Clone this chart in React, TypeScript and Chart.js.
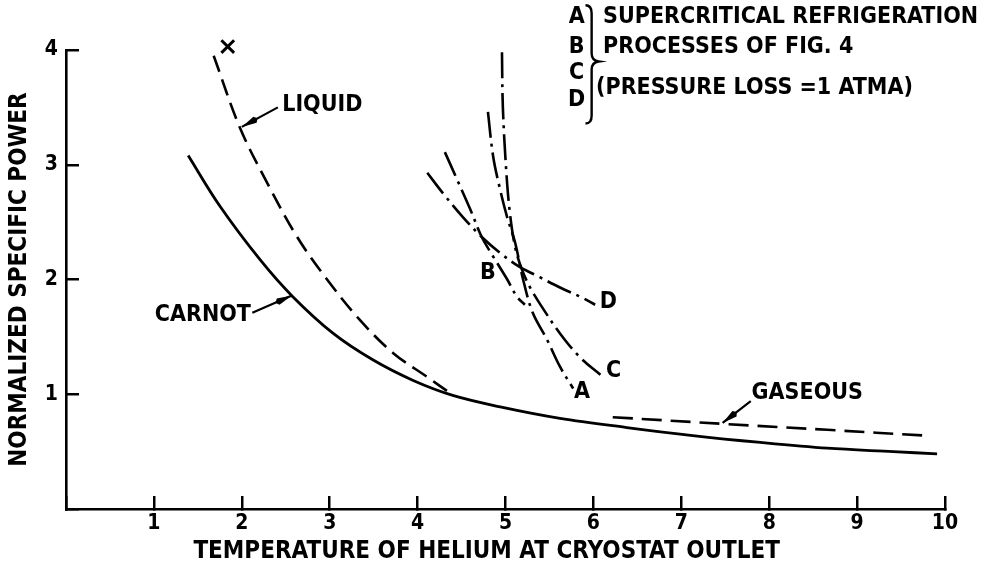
import React, { useEffect, useRef } from 'react';
import { Chart, registerables } from 'chart.js';

Chart.register(...registerables);

const FONT = '"DejaVu Sans Condensed", "DejaVu Sans", sans-serif';

// ---- axes ----
const xTickValues = [0, 1, 2, 3, 4, 5, 6, 7, 8, 9, 10];
const xTickLabels = ['', '1', '2', '3', '4', '5', '6', '7', '8', '9', '10'];
const yTickValues = [0, 1, 2, 3, 4];
const yTickLabels = ['', '1', '2', '3', '4'];
const xTitle = 'TEMPERATURE OF HELIUM AT CRYOSTAT OUTLET';
const yTitle = 'NORMALIZED SPECIFIC POWER';

// ---- series ----
const carnotT = [1.39, 1.75, 2.21, 2.58, 3.04, 3.49, 3.95, 4.40, 4.94, 5.62, 6.38, 7.13, 7.90, 8.66, 9.41, 9.91];
const carnotP = [3.08, 2.64, 2.17, 1.85, 1.53, 1.30, 1.12, 0.99, 0.89, 0.79, 0.71, 0.64, 0.58, 0.53, 0.50, 0.48];

const liquidT = [1.68, 1.98, 2.29, 2.63, 2.97, 3.34, 3.72, 4.11, 4.37];
const liquidP = [3.95, 3.32, 2.84, 2.37, 2.00, 1.65, 1.36, 1.15, 1.01];

const gaseousT = [6.22, 7.52, 8.66, 9.77];
const gaseousP = [0.80, 0.74, 0.69, 0.64];

const procAT = [4.80, 4.86, 4.94, 5.02, 5.11, 5.20, 5.31, 5.47, 5.62, 5.77];
const procAP = [3.46, 3.07, 2.78, 2.54, 2.32, 2.00, 1.71, 1.48, 1.24, 1.05];

const procBT = [4.31, 4.45, 4.60, 4.73, 4.86, 5.02, 5.13, 5.22];
const procBP = [3.11, 2.87, 2.61, 2.37, 2.20, 2.00, 1.85, 1.78];

const procCT = [4.96, 4.97, 5.01, 5.05, 5.11, 5.19, 5.28, 5.39, 5.62, 5.85, 6.08];
const procCP = [3.98, 3.50, 2.93, 2.58, 2.28, 2.08, 1.93, 1.79, 1.53, 1.32, 1.17];

const procDT = [4.11, 4.29, 4.52, 4.73, 4.94, 5.16, 5.39, 5.62, 5.85, 6.02];
const procDP = [2.93, 2.75, 2.54, 2.37, 2.23, 2.11, 2.02, 1.93, 1.85, 1.78];

const liquidEndT = [1.84];
const liquidEndP = [4.03];

// ---- annotations (in data coordinates) ----
const curveLabels = [
  { text: 'LIQUID', x: 2.46, y: 3.52, align: 'left' },
  { text: 'CARNOT', x: 1.01, y: 1.69, align: 'left' },
  { text: 'GASEOUS', x: 7.80, y: 1.01, align: 'left' },
  { text: 'A', x: 5.87, y: 1.02, align: 'center' },
  { text: 'B', x: 4.80, y: 2.06, align: 'center' },
  { text: 'C', x: 6.23, y: 1.20, align: 'center' },
  { text: 'D', x: 6.17, y: 1.80, align: 'center' },
];
const arrows = [
  { x1: 2.41, y1: 3.50, x2: 2.00, y2: 3.33 },
  { x1: 2.12, y1: 1.71, x2: 2.57, y2: 1.86 },
  { x1: 7.79, y1: 0.94, x2: 7.47, y2: 0.75 },
];
const keyLetters = ['A', 'B', 'C', 'D'];
const keyLetterY = [4.29, 4.03, 3.80, 3.56];
const keyLetterX = 5.81;
const keyLines = [
  { text: 'SUPERCRITICAL REFRIGERATION', x: 6.11, y: 4.29 },
  { text: 'PROCESSES OF FIG. 4', x: 6.11, y: 4.03 },
  { text: '(PRESSURE LOSS =1 ATMA)', x: 6.03, y: 3.67 },
];
const brace = { x: 5.98, tipX: 6.06, hookX: 5.91, top: 4.39, mid: 3.90, bottom: 3.36 };

const pts = (xs: number[], ys: number[]) => xs.map((x, i) => ({ x, y: ys[i] }));

const annotatePlugin = {
  id: 'annotate',
  afterDatasetsDraw(chart: any) {
    const ctx = chart.ctx as CanvasRenderingContext2D;
    const sx = chart.scales.x;
    const sy = chart.scales.y;
    const X = (v: number) => sx.getPixelForValue(v);
    const Y = (v: number) => sy.getPixelForValue(v);
    ctx.save();
    ctx.fillStyle = '#000';
    ctx.strokeStyle = '#000';
    ctx.font = `bold 23px ${FONT}`;
    ctx.textBaseline = 'middle';
    for (const l of curveLabels) {
      ctx.textAlign = l.align as CanvasTextAlign;
      ctx.fillText(l.text, X(l.x), Y(l.y));
    }
    // arrows
    for (const a of arrows) {
      const x1 = X(a.x1), y1 = Y(a.y1), x2 = X(a.x2), y2 = Y(a.y2);
      ctx.lineWidth = 2.2;
      ctx.beginPath();
      ctx.moveTo(x1, y1);
      ctx.lineTo(x2, y2);
      ctx.stroke();
      const ang = Math.atan2(y2 - y1, x2 - x1);
      const c = Math.cos(ang), s = Math.sin(ang);
      const L = 15, W = 3.4;
      const bx = x2 - L * c, by = y2 - L * s;
      ctx.beginPath();
      ctx.moveTo(x2, y2);
      ctx.lineTo(bx - W * s, by + W * c);
      ctx.lineTo(bx - 3 * c, by - 3 * s);
      ctx.lineTo(bx + W * s, by - W * c);
      ctx.closePath();
      ctx.fill();
    }
    // key
    ctx.textAlign = 'center';
    keyLetters.forEach((t, i) => ctx.fillText(t, X(keyLetterX), Y(keyLetterY[i])));
    ctx.textAlign = 'left';
    for (const k of keyLines) ctx.fillText(k.text, X(k.x), Y(k.y));
    // brace
    const bxp = X(brace.x), tip = X(brace.tipX), hook = X(brace.hookX);
    const top = Y(brace.top), mid = Y(brace.mid), bot = Y(brace.bottom);
    ctx.lineWidth = 2.4;
    ctx.beginPath();
    ctx.moveTo(hook, top);
    ctx.quadraticCurveTo(bxp, top, bxp, top + 8);
    ctx.lineTo(bxp, mid - 8);
    ctx.quadraticCurveTo(bxp, mid - 1, tip, mid);
    ctx.quadraticCurveTo(bxp, mid + 1, bxp, mid + 8);
    ctx.lineTo(bxp, bot - 8);
    ctx.quadraticCurveTo(bxp, bot, hook, bot);
    ctx.stroke();
    ctx.restore();
  },
};

const lineDs = (data: any[], dash: number[], width = 2.6) => ({
  data,
  showLine: true,
  borderColor: '#000',
  backgroundColor: '#000',
  borderWidth: width,
  borderDash: dash,
  pointRadius: 0,
  pointHoverRadius: 0,
  tension: 0.35,
  fill: false,
  clip: false,
});

export default function App() {
  const ref = useRef<HTMLCanvasElement>(null);
  useEffect(() => {
    if (!ref.current) return;
    Chart.defaults.font.family = FONT;
    Chart.defaults.color = '#000';
    const dashDot = [26, 6, 3, 6];
    const chart = new Chart(ref.current, {
      type: 'scatter',
      data: {
        datasets: [
          { label: 'CARNOT', ...lineDs(pts(carnotT, carnotP), [], 2.8) },
          { label: 'LIQUID', ...lineDs(pts(liquidT, liquidP), [17, 8]) },
          { label: 'GASEOUS', ...lineDs(pts(gaseousT, gaseousP), [20, 9]) },
          { label: 'A', ...lineDs(pts(procAT, procAP), dashDot) },
          { label: 'B', ...lineDs(pts(procBT, procBP), dashDot) },
          { label: 'C', ...lineDs(pts(procCT, procCP), dashDot) },
          { label: 'D', ...lineDs(pts(procDT, procDP), dashDot) },
          {
            label: 'X',
            data: pts(liquidEndT, liquidEndP),
            showLine: false,
            pointStyle: 'crossRot',
            pointRadius: 9,
            pointHoverRadius: 9,
            borderColor: '#000',
            borderWidth: 3,
            clip: false,
          } as any,
        ],
      },
      options: {
        animation: false,
        responsive: true,
        maintainAspectRatio: false,
        events: [],
        layout: { padding: { left: 0, top: 50, right: 51, bottom: 0 } },
        plugins: { legend: { display: false }, tooltip: { enabled: false }, title: { display: false } },
        scales: {
          x: {
            type: 'linear',
            min: 0,
            max: 10,
            afterBuildTicks: (s: any) => { s.ticks = xTickValues.map((v) => ({ value: v })); },
            afterFit: (s: any) => { s.height = 55; },
            ticks: {
              callback: (v: any) => xTickLabels[xTickValues.indexOf(Number(v))] ?? '',
              font: { family: FONT, size: 21, weight: 'bold', lineHeight: 1 },
              color: '#000',
              padding: 17,
              maxRotation: 0,
              autoSkip: false,
            },
            grid: { display: true, drawOnChartArea: false, drawTicks: true, tickLength: -13, color: '#000', lineWidth: 2.5 },
            border: { display: true, color: '#000', width: 2.6 },
            title: {
              display: true,
              text: xTitle + '\u00A0\u00A0\u00A0\u00A0\u00A0',
              font: { family: FONT, size: 24, weight: 'bold', lineHeight: 1 },
              color: '#000',
              padding: { top: 0, bottom: 0 },
            },
          },
          y: {
            type: 'linear',
            min: 0,
            max: 4,
            afterBuildTicks: (s: any) => { s.ticks = yTickValues.map((v) => ({ value: v })); },
            afterFit: (s: any) => { s.width = 66; },
            ticks: {
              callback: (v: any) => yTickLabels[yTickValues.indexOf(Number(v))] ?? '',
              font: { family: FONT, size: 21, weight: 'bold', lineHeight: 1 },
              color: '#000',
              padding: 21,
              autoSkip: false,
            },
            grid: { display: true, drawOnChartArea: false, drawTicks: true, tickLength: -13, color: '#000', lineWidth: 2.5 },
            border: { display: true, color: '#000', width: 2.6 },
            title: {
              display: true,
              text: yTitle,
              font: { family: FONT, size: 24, weight: 'bold', lineHeight: 1 },
              color: '#000',
              padding: { top: 8, bottom: 0 },
            },
          },
        },
      } as any,
      plugins: [annotatePlugin],
    });
    return () => chart.destroy();
  }, []);
  return (
    <div style={{ position: 'fixed', left: 0, top: 0, width: 996, height: 564, background: '#fff' }}>
      <canvas ref={ref} />
    </div>
  );
}
